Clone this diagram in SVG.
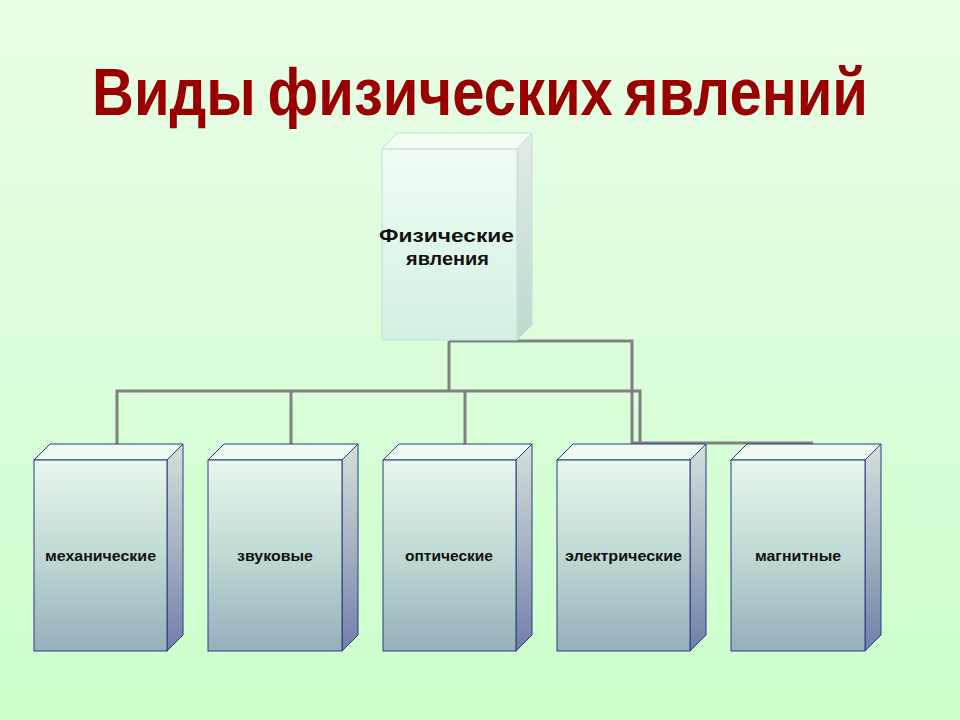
<svg xmlns="http://www.w3.org/2000/svg" width="960" height="720" viewBox="0 0 960 720">
<defs>
<linearGradient id="bg" x1="0" y1="0" x2="0" y2="1">
<stop offset="0" stop-color="#e9fde7"/>
<stop offset="1" stop-color="#ccffcc"/>
</linearGradient>
<linearGradient id="tf" x1="0" y1="0" x2="0" y2="1">
<stop offset="0" stop-color="#f1fcf2"/>
<stop offset="1" stop-color="#d2f1e2"/>
</linearGradient>
<linearGradient id="tr" x1="0" y1="0" x2="0" y2="1">
<stop offset="0" stop-color="#e3ebe3"/>
<stop offset="1" stop-color="#bcd9d0"/>
</linearGradient>
<linearGradient id="bf" x1="0" y1="0" x2="0" y2="1">
<stop offset="0" stop-color="#e8f7ec"/>
<stop offset="0.5" stop-color="#c0d9d4"/>
<stop offset="1" stop-color="#95afbd"/>
</linearGradient>
<linearGradient id="br" x1="0" y1="0" x2="0" y2="1">
<stop offset="0" stop-color="#d6e0da"/>
<stop offset="0.5" stop-color="#a4b2c2"/>
<stop offset="1" stop-color="#6f7ea8"/>
</linearGradient>
<style>
.title{font-family:"Liberation Sans Narrow","Liberation Sans",Arial,sans-serif;font-weight:bold;font-size:66px;fill:#990000;word-spacing:-5px}
.lbl{font-family:"Liberation Sans",Arial,sans-serif;font-weight:bold;font-size:15px;fill:#111}
.tlbl{font-family:"Liberation Sans",Arial,sans-serif;font-weight:bold;font-size:18px;fill:#111}
.bb{stroke:#2b3a80;stroke-width:1}
.tb{stroke:#bfe0dc;stroke-width:1}
.conn{fill:none;stroke:#808080;stroke-width:3}
</style>
</defs>
<rect x="0" y="0" width="960" height="720" fill="url(#bg)"/>
<text class="title" x="480" y="115" text-anchor="middle" textLength="776" lengthAdjust="spacingAndGlyphs">Виды физических явлений</text>

<g id="connectors">
<polyline class="conn" points="449,341 632,341 632,443 813,443"/>
<line class="conn" x1="449" y1="341" x2="449" y2="391"/>
<polyline class="conn" points="117,444 117,391 640,391 640,444"/>
<line class="conn" x1="291" y1="391" x2="291" y2="444"/>
<line class="conn" x1="465" y1="391" x2="465" y2="444"/>
</g>

<g id="root">
<polygon class="tb" points="382,149 397,133 532,133 517,149" fill="#f3fdf4"/>
<polygon class="tb" points="517,149 532,133 532,325 517,340" fill="url(#tr)"/>
<rect class="tb" x="382" y="149" width="135" height="191" fill="url(#tf)"/>
<text class="tlbl" x="446.5" y="242" text-anchor="middle" textLength="135" lengthAdjust="spacingAndGlyphs">Физические</text>
<text class="tlbl" x="447.5" y="265" text-anchor="middle" textLength="83" lengthAdjust="spacingAndGlyphs">явления</text>
</g>

<g id="mech">
<polygon class="bb" points="34,460 50,444 183,444 167,460" fill="#eef9f0"/>
<polygon class="bb" points="167,460 183,444 183,635 167,651" fill="url(#br)"/>
<rect class="bb" x="34" y="460" width="133" height="191" fill="url(#bf)"/>
<text class="lbl" x="100.5" y="561" text-anchor="middle" textLength="111" lengthAdjust="spacingAndGlyphs">механические</text>
</g>
<g id="sound">
<polygon class="bb" points="208,460 224,444 358,444 342,460" fill="#eef9f0"/>
<polygon class="bb" points="342,460 358,444 358,635 342,651" fill="url(#br)"/>
<rect class="bb" x="208" y="460" width="134" height="191" fill="url(#bf)"/>
<text class="lbl" x="275" y="561" text-anchor="middle" textLength="76" lengthAdjust="spacingAndGlyphs">звуковые</text>
</g>
<g id="optic">
<polygon class="bb" points="383,460 399,444 532,444 516,460" fill="#eef9f0"/>
<polygon class="bb" points="516,460 532,444 532,635 516,651" fill="url(#br)"/>
<rect class="bb" x="383" y="460" width="133" height="191" fill="url(#bf)"/>
<text class="lbl" x="449" y="561" text-anchor="middle" textLength="88" lengthAdjust="spacingAndGlyphs">оптические</text>
</g>
<g id="electric">
<polygon class="bb" points="557,460 573,444 706,444 690,460" fill="#eef9f0"/>
<polygon class="bb" points="690,460 706,444 706,635 690,651" fill="url(#br)"/>
<rect class="bb" x="557" y="460" width="133" height="191" fill="url(#bf)"/>
<text class="lbl" x="623.5" y="561" text-anchor="middle" textLength="117" lengthAdjust="spacingAndGlyphs">электрические</text>
</g>
<g id="magnet">
<polygon class="bb" points="731,460 747,444 881,444 865,460" fill="#eef9f0"/>
<polygon class="bb" points="865,460 881,444 881,635 865,651" fill="url(#br)"/>
<rect class="bb" x="731" y="460" width="134" height="191" fill="url(#bf)"/>
<text class="lbl" x="798" y="561" text-anchor="middle" textLength="86" lengthAdjust="spacingAndGlyphs">магнитные</text>
</g>
</svg>
